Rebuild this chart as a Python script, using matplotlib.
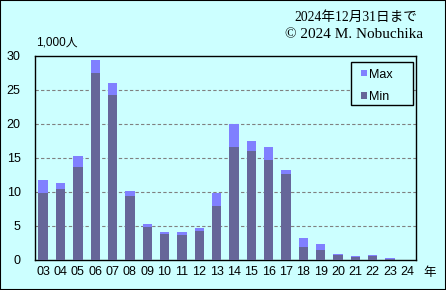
import matplotlib
matplotlib.use("Agg")
import matplotlib.pyplot as plt
import numpy as np

years = ["03","04","05","06","07","08","09","10","11","12","13","14","15","16","17","18","19","20","21","22","23","24"]
min_vals = [9.85,10.35,13.7,27.4,24.15,9.4,4.9,3.85,3.7,4.3,7.9,16.55,15.95,14.6,12.6,1.9,1.46,0.78,0.44,0.63,0.15,0.0]
max_vals = [11.7,11.3,15.2,29.4,25.95,10.1,5.27,4.1,4.1,4.7,9.8,20.0,17.4,16.55,13.2,3.27,2.34,0.88,0.63,0.73,0.29,0.0]
yticks = [0,5,10,15,20,25,30]

bg = "#CCFFFF"
c_max = "#8080FF"
c_min = "#666699"

plt.rcParams['font.family'] = ['Liberation Sans', 'Noto Sans CJK JP']

W, H = 446, 290
fig = plt.figure(figsize=(W/100, H/100), dpi=100, facecolor=bg)
fig.patches.append(plt.Rectangle((0, 0), 1, 1, transform=fig.transFigure,
                                 fill=False, edgecolor="black", linewidth=1.5))
ax = fig.add_axes([34.5/W, 30/H, (416-34.5)/W, (260-55.5)/H])
ax.set_facecolor(bg)

x = np.arange(len(years))
w = 0.54
ax.bar(x, max_vals, width=w, color=c_max, label="Max", zorder=3)
ax.bar(x, min_vals, width=w, color=c_min, label="Min", zorder=4)

ax.set_xlim(-0.5, len(years) - 0.5)
ax.set_ylim(0, 30)
ax.set_yticks(yticks)
ax.set_xticks(x)
ax.set_xticklabels(years)
ax.tick_params(axis="both", length=0, labelsize=9, pad=4)
ax.tick_params(axis="y", pad=10)
for y in yticks[1:-1]:
    ax.axhline(y, color="#808080", linestyle=(0, (3, 2)), linewidth=0.8, zorder=1)
for s in ax.spines.values():
    s.set_color("black")
    s.set_linewidth(1)

# legend box (frame drawn separately)
fig.patches.append(plt.Rectangle((351/W, 1 - 105/H), 62/W, 43/H, transform=fig.transFigure,
                                 facecolor=bg, edgecolor="black", linewidth=1, zorder=5))
leg = fig.legend(*ax.get_legend_handles_labels(), loc="upper left",
                 bbox_to_anchor=(361/W, 1 - 68.5/H), fontsize=9,
                 frameon=False, handlelength=0.45, handleheight=0.45, handletextpad=0.15,
                 labelspacing=0.85, borderpad=0, borderaxespad=0)
leg.set_zorder(6)

fig.text(36/W, 1 - 42/H, "1,000人", fontsize=8.5, ha="left", va="center")
fig.text(430/W, 1 - 273/H, "年", fontsize=9, ha="center", va="center")
fig.text(417/W, 1 - 17/H, "2024年12月31日まで", fontsize=9.8, ha="right", va="center",
         family=['Liberation Serif', 'Noto Sans CJK JP'])
fig.text(423/W, 1 - 35/H, "© 2024 M. Nobuchika", fontsize=11, ha="right", va="center",
         family=['Liberation Serif', 'DejaVu Serif'])

fig.savefig("out.png", dpi=100, facecolor=bg)
